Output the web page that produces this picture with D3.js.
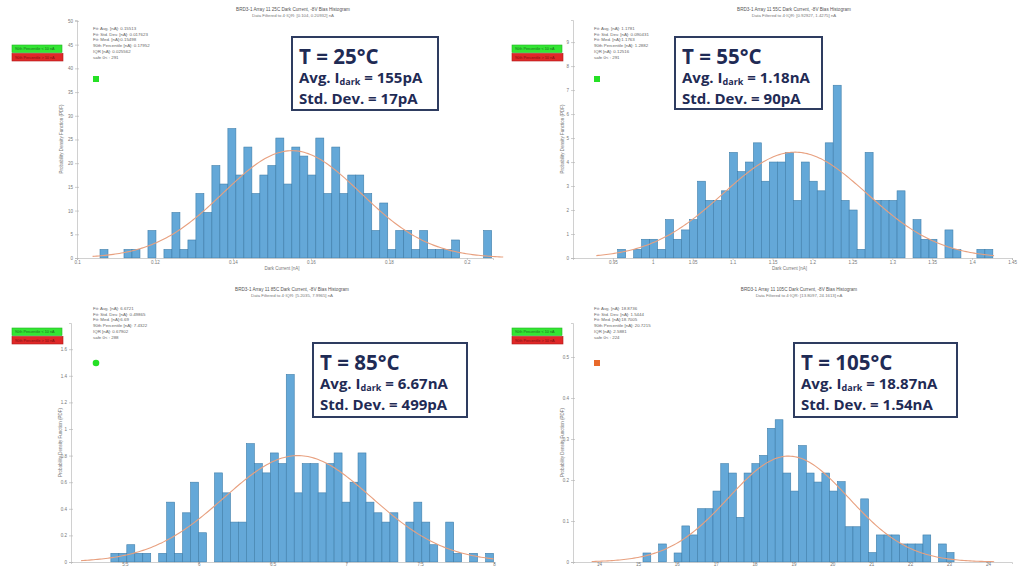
<!DOCTYPE html>
<html>
<head>
<meta charset="utf-8">
<script src="https://cdn.jsdelivr.net/npm/d3@7"></script>
<style>
  body { margin: 0; background: #fff; }
  svg { display: block; }
</style>
</head>
<body>
<div id="chart"></div>
<script>
// ---- data ----
var temps = ["25", "55", "85", "105"];
var avgLabels = ["155pA", "1.18nA", "6.67nA", "18.87nA"];
var stdLabels = ["17pA", "90pA", "499pA", "1.54nA"];

// fit parameters (nA) and filter ranges from the subtitles
var fitMean = [0.15513, 1.1781, 6.6721, 18.8736];
var fitStd = [0.017623, 0.090431, 0.49865, 1.5444];
var fitLo = [0.104, 0.92927, 5.2035, 13.8097];
var fitHi = [0.20932, 1.4275, 7.9965, 24.1613];

// histogram bins
var binStart = [0.1059, 0.956, 5.405, 15.13];
var binWidth = [0.00205, 0.01, 0.054, 0.2];
var pdf25 = [1.8,0,0,1.8,1.8,0,5.8,0,1.8,9.6,1.8,3.8,13.6,9.6,19.5,15.6,27.3,17.5,23.4,13.6,17.5,19.5,25.3,15.6,23.4,21.5,17.5,25.3,13.6,23.4,13.6,17.5,17.5,13.6,5.8,11.6,1.8,5.8,5.8,1.8,5.8,1.8,1.8,1.8,3.8,0,0,0,5.8];
var pdf55 = [0.36,0,0.36,0.78,0.78,0.36,1.6,0.78,1.17,1.6,3.2,2.4,2.4,2.8,4.4,3.6,4.0,4.8,3.2,4.0,4.0,4.4,2.4,4.0,3.2,2.8,4.8,7.2,2.4,2.0,0.36,4.4,2.4,2.4,2.4,2.8,0,1.6,0.78,0.78,0,1.17,0.36,0,0,0.36,0.36];
var pdf85 = [0.065,0.065,0.13,0.065,0.065,0,0.065,0.45,0.065,0.37,0.6,0.22,0,0.67,0.52,0.3,0.3,0.89,0.74,0.67,0.82,0.74,1.41,0.52,0.74,0.74,0.52,0.74,0.82,0.45,0.6,0.82,0.45,0.37,0.3,0.37,0,0.3,0.45,0.3,0.13,0,0.3,0.065,0,0.065,0,0.065];
var pdf105 = [0.022,0,0.044,0,0.022,0.088,0.066,0.13,0.13,0.173,0.24,0.217,0.109,0.217,0.24,0.26,0.326,0.347,0.217,0.173,0.284,0.217,0.195,0.217,0.173,0.196,0.086,0.086,0.154,0.023,0.066,0.066,0.066,0.044,0.044,0.044,0.066,0,0.044,0.023];
var pdfs = [pdf25, pdf55, pdf85, pdf105];

// axes
var xDomains = [[0.1, 0.2067], [0.9, 1.45], [5.135, 8.0], [13.33, 24.62]];
var yDomains = [[0, 50.2], [0, 9.92], [0, 1.797], [0, 0.583]];
var xTicks = [
  [0.1, 0.12, 0.14, 0.16, 0.18, 0.2],
  [0.95, 1, 1.05, 1.1, 1.15, 1.2, 1.25, 1.3, 1.35, 1.4, 1.45],
  [5.5, 6, 6.5, 7, 7.5, 8],
  [14, 15, 16, 17, 18, 19, 20, 21, 22, 23, 24]
];
var yTicks = [
  [0, 5, 10, 15, 20, 25, 30, 35, 40, 45, 50],
  [0, 1, 2, 3, 4, 5, 6, 7, 8, 9],
  [0, 0.2, 0.4, 0.6, 0.8, 1, 1.2, 1.4, 1.6],
  [0, 0.1, 0.2, 0.3, 0.4, 0.5]
];

var subRanges = ["[0.104, 0.20932]", "[0.92927, 1.4275]", "[5.2035, 7.9965]", "[13.8097, 24.1613]"];
var statLines = [
  ["Fit: Avg. [nA]: 0.15513", "Fit: Std. Dev. [nA]: 0.017623", "Fit: Med. [nA]:0.15498", "90th Percentile [nA]: 0.17952", "IQR [nA]: 0.025562", "safe 0< : 291"],
  ["Fit: Avg. [nA]: 1.1781", "Fit: Std. Dev. [nA]: 0.090431", "Fit: Med. [nA]:1.1763", "90th Percentile [nA]: 1.2882", "IQR [nA]: 0.12516", "safe 0< : 291"],
  ["Fit: Avg. [nA]: 6.6721", "Fit: Std. Dev. [nA]: 0.49865", "Fit: Med. [nA]:6.69", "90th Percentile [nA]: 7.4322", "IQR [nA]: 0.67902", "safe 0< : 288"],
  ["Fit: Avg. [nA]: 18.8736", "Fit: Std. Dev. [nA]: 1.5444", "Fit: Med. [nA]:18.7005", "90th Percentile [nA]: 20.7215", "IQR [nA]: 2.5881", "safe 0< : 224"]
];
var markerColors = ["#25e025", "#25e025", "#25e025", "#e8692a"];

// ---- layout (pixels) ----
var layout = [
  {x0: 77, x1: 493, yb: 258, yt: 20, ox: 0, oy: 0, box: [292, 37, 146, 73], tx: 293, lx: 63},
  {x0: 573, x1: 1012, yb: 258, yt: 20, ox: 512, oy: 0, box: [675, 37, 147, 72], tx: 794, lx: 564},
  {x0: 71, x1: 494, yb: 562, yt: 323, ox: 0, oy: 280, box: [313, 343, 154, 74], tx: 292, lx: 62},
  {x0: 573, x1: 1012, yb: 562, yt: 323, ox: 512, oy: 280, box: [794, 343, 163, 74], tx: 799, lx: 564}
];

var svg = d3.select("#chart").append("svg")
  .attr("width", 1023).attr("height", 567);

var tiny = "'Liberation Sans', Arial, sans-serif";
var bold = "'Open Sans', sans-serif";

function normalPdf(x, m, s) {
  return Math.exp(-0.5 * Math.pow((x - m) / s, 2)) / (s * Math.sqrt(2 * Math.PI));
}

for (var p = 0; p < 4; p++) {
  var L = layout[p];
  var g = svg.append("g");

  var x = d3.scaleLinear().domain(xDomains[p]).range([L.x0, L.x1]);
  var y = d3.scaleLinear().domain(yDomains[p]).range([L.yb, L.yt]);

  // bars
  var bins = pdfs[p].map(function(v, i) {
    return {x0: binStart[p] + i * binWidth[p], x1: binStart[p] + (i + 1) * binWidth[p], v: v};
  }).filter(function(d) { return d.v > 0; });

  g.append("g").selectAll("rect").data(bins).enter().append("rect")
    .attr("x", function(d) { return x(d.x0); })
    .attr("width", function(d) { return x(d.x1) - x(d.x0); })
    .attr("y", function(d) { return y(d.v); })
    .attr("height", function(d) { return y(0) - y(d.v); })
    .attr("fill", "#64a8d8")
    .attr("stroke", "#3f7eaa")
    .attr("stroke-width", 0.6);

  // fitted normal curve
  var m = fitMean[p], s = fitStd[p];
  var pts = d3.range(fitLo[p], fitHi[p], (fitHi[p] - fitLo[p]) / 200).concat([fitHi[p]])
    .map(function(v) { return [v, normalPdf(v, m, s)]; });
  g.append("path").datum(pts)
    .attr("fill", "none")
    .attr("stroke", "#e8a07f")
    .attr("stroke-width", 1.1)
    .attr("d", d3.line().x(function(d) { return x(d[0]); }).y(function(d) { return y(d[1]); }));

  // axes
  var bottomRow = p >= 2;
  var xAxis = d3.axisBottom(x).tickValues(xTicks[p]).tickSize(2).tickPadding(1).tickFormat(d3.format("~g"));
  var yAxis = d3.axisLeft(y).tickValues(yTicks[p]).tickSize(2).tickPadding(2).tickFormat(d3.format("~g"));
  var gx = g.append("g").attr("transform", "translate(0," + L.yb + ")").call(xAxis);
  var gy = g.append("g").attr("transform", "translate(" + L.x0 + ",0)").call(yAxis);
  [gx, gy].forEach(function(a) {
    a.select(".domain").attr("stroke", "#c4c4c4").attr("stroke-width", 0.8);
    a.selectAll(".tick line").attr("stroke", "#b0b0b0").attr("stroke-width", 0.6);
    a.selectAll(".tick text").attr("fill", "#777").attr("font-size", 4.5).attr("font-family", tiny);
  });
  gy.selectAll(".tick line").attr("x2", 2).attr("x1", -2);
  if (bottomRow) gx.selectAll(".tick text").attr("y", 0.6);

  // axis titles (the bottom row's x title falls below the picture edge)
  if (!bottomRow) {
    g.append("text")
      .attr("x", (L.x0 + L.x1) / 2 - 3).attr("y", L.yb + 12)
      .attr("text-anchor", "middle").attr("font-size", 4.5).attr("fill", "#777").attr("font-family", tiny)
      .text("Dark Current [nA]");
  }
  g.append("text")
    .attr("transform", "translate(" + L.lx + "," + (L.yt + (L.yb - L.yt) * 0.5) + ") rotate(-90)")
    .attr("text-anchor", "middle").attr("font-size", 4.5).attr("fill", "#777").attr("font-family", tiny)
    .text("Probability Density Function (PDF)");

  // chart title
  g.append("text")
    .attr("x", L.tx).attr("y", L.oy + 11)
    .attr("text-anchor", "middle").attr("font-size", 4.6).attr("fill", "#555").attr("font-family", tiny)
    .text("BRD3-1 Array 11 " + temps[p] + "C Dark Current, -8V Bias Histogram");
  g.append("text")
    .attr("x", L.tx).attr("y", L.oy + 16.5)
    .attr("text-anchor", "middle").attr("font-size", 4.3).attr("fill", "#777").attr("font-family", tiny)
    .text("Data Filtered to 4·IQR: " + subRanges[p] + " nA");

  // stats text
  g.append("g").selectAll("text").data(statLines[p]).enter().append("text")
    .attr("x", L.ox + (p % 2 === 0 ? 93 : 82))
    .attr("y", function(d, i) { return L.oy + 30 + i * 5.7; })
    .attr("font-size", 4.4).attr("fill", "#666").attr("font-family", tiny)
    .text(function(d) { return d; });

  // status legend boxes
  var lgx = L.ox + (p % 2 === 0 ? 12 : 0);
  var lgy = L.oy + (p < 2 ? 45 : 48);
  g.append("rect").attr("x", lgx).attr("y", lgy).attr("width", 50).attr("height", 7.5)
    .attr("fill", "#33e633").attr("stroke", "#22b522").attr("stroke-width", 0.6);
  g.append("rect").attr("x", lgx).attr("y", lgy + 8.5).attr("width", 51).attr("height", 7.5)
    .attr("fill", "#e02828").attr("stroke", "#b01818").attr("stroke-width", 0.6);
  g.append("text").attr("x", lgx + 3).attr("y", lgy + 5.3)
    .attr("font-size", 3.8).attr("fill", "#1f6a1f").attr("font-family", tiny)
    .text("90th Percentile < 10 nA");
  g.append("text").attr("x", lgx + 3).attr("y", lgy + 13.8)
    .attr("font-size", 3.8).attr("fill", "#7a1010").attr("font-family", tiny)
    .text("90th Percentile > 10 nA");

  // status marker
  var mx = L.ox + (p % 2 === 0 ? 93 : 82), my = L.oy + (p < 2 ? 76 : 80);
  if (p === 2) {
    g.append("circle").attr("cx", mx + 3).attr("cy", my + 3).attr("r", 3.3).attr("fill", markerColors[p]);
  } else {
    g.append("rect").attr("x", mx).attr("y", my).attr("width", 6).attr("height", 6).attr("fill", markerColors[p]);
  }

  // callout box
  var b = L.box;
  g.append("rect").attr("x", b[0]).attr("y", b[1]).attr("width", b[2]).attr("height", b[3])
    .attr("fill", "#fff").attr("stroke", "#2e3c60").attr("stroke-width", 2);
  var tcol = "#1f2b55";
  g.append("text").attr("x", b[0] + 7).attr("y", b[1] + 27)
    .attr("font-family", bold).attr("font-weight", 700).attr("font-size", 20.5).attr("fill", tcol)
    .text("T = " + temps[p] + "°C");
  var t2 = g.append("text").attr("x", b[0] + 7).attr("y", b[1] + 46)
    .attr("font-family", bold).attr("font-weight", 700).attr("font-size", 15).attr("fill", tcol);
  t2.append("tspan").text("Avg. I");
  t2.append("tspan").attr("font-size", 9).attr("dy", 2.2).text("dark");
  t2.append("tspan").attr("dy", -2.2).text(" = " + avgLabels[p]);
  g.append("text").attr("x", b[0] + 7).attr("y", b[1] + 67)
    .attr("font-family", bold).attr("font-weight", 700).attr("font-size", 15).attr("fill", tcol)
    .text("Std. Dev. = " + stdLabels[p]);
}
</script>
</body>
</html>
